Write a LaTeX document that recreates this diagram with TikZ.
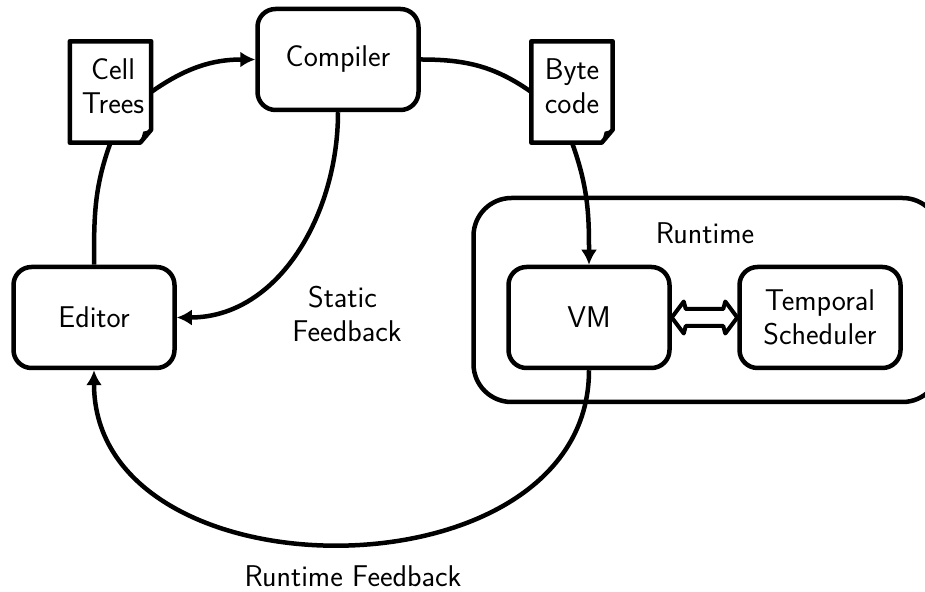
\documentclass[tikz,border=0pt]{standalone}
\usepackage{tikz}
\usetikzlibrary{arrows.meta}

\begin{document}
\begin{tikzpicture}[x=1pt,y=1pt]
	\tikzstyle{every node}=[font=\fontsize{30}{33.6}\selectfont\sffamily,align=center]
	\tikzstyle{block}=[rectangle,draw,line width=4.5pt,rounded corners=18pt,minimum width=161pt,minimum height=101pt]
	\tikzstyle{docbox}=[minimum width=81pt,minimum height=101pt,inner sep=0pt,text depth=12pt]
	\tikzstyle{link}=[line width=4.5pt,-]
	\tikzstyle{flow}=[link,-{Latex[length=15pt,width=16pt]}]

	\useasboundingbox (0,0) rectangle (925,591);
	\begin{scope}
		\clip (0,0) rectangle (925,591);
		\node[block,rounded corners=38pt,minimum width=467pt,minimum height=204pt] (runtimebox) at (707,291) {};
	\end{scope}

	\node[block] (compiler) at (338,531.5) {Compiler};
	\node[block] (editor) at (94,273.5) {Editor};
	\node[block] (vm) at (589,273.5) {VM};
	\node[block] (scheduler) at (820,273.5) {Temporal\\Scheduler};
	\node[docbox] (cell) at (110.5,499) {\hspace*{5pt}Cell\\\hspace*{5pt}Trees};
	\node[docbox] (byte) at (572,499) {Byte\\code};

	\node (runtimelabel) at (705,358) {Runtime};
	\node (staticlabel) at (347,277) {Static\hspace*{9pt}\\Feedback};
	\node (feedbacklabel) at (353,15) {Runtime Feedback};

	% page outline with folded corner
	\foreach \n in {cell,byte}{
		\draw[line width=4.5pt,line join=round] (\n.north west) -- (\n.north east) -- ([yshift=13pt]\n.south east) -- ([xshift=-11pt]\n.south east) -- (\n.south west) -- cycle;
		\fill ([yshift=13pt]\n.south east) -- ([xshift=-11pt]\n.south east) -- ([xshift=-8pt,yshift=11pt]\n.south east) -- cycle;
	}

	\draw[link] (editor.north) to[out=90,in=-110] (cell.south);
	\draw[flow] (cell.east) to[out=35,in=180] (compiler.west);
	\draw[link] (compiler.east) to[out=0,in=145] (byte.west);
	\draw[flow] (byte.south) to[out=-70,in=90] (vm.north);
	\draw[flow] (compiler.south) to[out=-90,in=0] (editor.east);
	\draw[flow] (vm.south) to[out=-90,in=-90,looseness=1.2] (editor.south);
	% outlined two way arrow
	\draw[line width=4pt,line join=round] (vm.east) -- ++(12,16) -- ++(2,-7.5) -- ([xshift=-14pt,yshift=8.5pt]scheduler.west) -- ++(2,7.5) -- (scheduler.west) -- ++(-12,-16) -- ++(-2,7.5) -- ([xshift=14pt,yshift=-8.5pt]vm.east) -- ++(-2,-7.5) -- cycle;
\end{tikzpicture}
\end{document}
